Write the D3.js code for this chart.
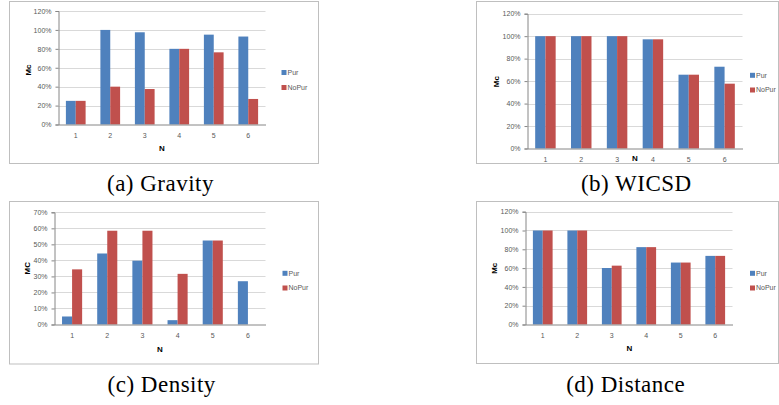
<!DOCTYPE html>
<html>
<head>
<meta charset="utf-8">
<script src="https://cdn.jsdelivr.net/npm/d3@7"></script>
<style>
  html, body { margin: 0; padding: 0; background: #fff; }
  svg { display: block; }
  #captions text { font-family: "Liberation Serif", "Times New Roman", Times, serif !important; font-size: 23px; }
</style>
</head>
<body>
<svg id="chart" width="779" height="405">
  <g id="captions">
    <text x="160.5" y="191" text-anchor="middle">(a) Gravity</text>
    <text x="636.3" y="191" text-anchor="middle">(b) WICSD</text>
    <text x="161.7" y="392.3" text-anchor="middle">(c) Density</text>
    <text x="625.7" y="392.3" text-anchor="middle">(d) Distance</text>
  </g>
</svg>
<script>
// ---------- data ----------
const categories = ["1", "2", "3", "4", "5", "6"];
const seriesNames = ["Pur", "NoPur"];
const seriesColors = ["#4F81BD", "#C0504D"];

const gravityPur   = [0.25, 1.00, 0.975, 0.80, 0.95, 0.93];
const gravityNoPur = [0.25, 0.40, 0.375, 0.80, 0.763, 0.27];

const wicsdPur     = [1.00, 1.00, 1.00, 0.972, 0.657, 0.728];
const wicsdNoPur   = [1.00, 1.00, 1.00, 0.972, 0.657, 0.577];

const densityPur   = [0.05, 0.443, 0.398, 0.027, 0.524, 0.27];
const densityNoPur = [0.344, 0.585, 0.585, 0.316, 0.524, 0.0];

const distancePur   = [1.00, 1.00, 0.601, 0.823, 0.659, 0.73];
const distanceNoPur = [1.00, 1.00, 0.626, 0.823, 0.659, 0.73];

const ticks120 = [0, 0.2, 0.4, 0.6, 0.8, 1.0, 1.2];
const ticks70  = [0, 0.1, 0.2, 0.3, 0.4, 0.5, 0.6, 0.7];

const captions = ["(a) Gravity", "(b) WICSD", "(c) Density", "(d) Distance"];
const yTitles  = ["Mc", "Mc", "MC", "Mc"];
const xTitle   = "N";

// ---------- layout ----------
const panels = [
  { pur: gravityPur, nopur: gravityNoPur, ticks: ticks120, yTitle: yTitles[0],
    frame: {x: 9.5, y: 1.5, w: 309, h: 162}, plot: {l: 58.5, r: 265.5, t: 11, b: 124.5},
    yt: {x: 27.7, y: 70}, xTickY: 136, nPos: {x: 162, y: 148}, leg: {x: 281.5, y: [72.5, 87.5]} },
  { pur: wicsdPur, nopur: wicsdNoPur, ticks: ticks120, yTitle: yTitles[1],
    frame: {x: 476.5, y: 1.5, w: 302, h: 162}, plot: {l: 527.5, r: 742.5, t: 13.7, b: 148.5},
    yt: {x: 496, y: 81.7}, xTickY: 160, nPos: {x: 635, y: 158.5}, leg: {x: 750, y: [75.3, 90]} },
  { pur: densityPur, nopur: densityNoPur, ticks: ticks70, yTitle: yTitles[2],
    frame: {x: 9.5, y: 201.5, w: 309, h: 162.5}, plot: {l: 54.5, r: 265.5, t: 212.3, b: 324.5},
    yt: {x: 26.7, y: 268.3}, xTickY: 335.7, nPos: {x: 160, y: 349.3}, leg: {x: 282.5, y: [273.3, 288]} },
  { pur: distancePur, nopur: distanceNoPur, ticks: ticks120, yTitle: yTitles[3],
    frame: {x: 476.5, y: 201.5, w: 302, h: 162}, plot: {l: 525.5, r: 732.5, t: 211.7, b: 324.5},
    yt: {x: 494, y: 268.3}, xTickY: 335.7, nPos: {x: 629.3, y: 348.3}, leg: {x: 750, y: [273.3, 288]} }
];

const svg = d3.select("#chart");
const sans = "'Liberation Sans', Arial, sans-serif";
const pct = d3.format(".0%");

panels.forEach(p => {
  const g = svg.insert("g", "#captions");

  g.append("rect")
    .attr("x", p.frame.x).attr("y", p.frame.y)
    .attr("width", p.frame.w).attr("height", p.frame.h)
    .attr("fill", "#fff").attr("stroke", "#bfbfbf").attr("stroke-width", 1);

  const yMax = p.ticks[p.ticks.length - 1];
  const y = d3.scaleLinear().domain([0, yMax]).range([p.plot.b, p.plot.t]);
  const x = d3.scaleBand().domain(categories).range([p.plot.l, p.plot.r])
    .paddingInner(1.5 / 3.5).paddingOuter(0.75 / 3.5);
  const xs = d3.scaleBand().domain(seriesNames).range([0, x.bandwidth()]);

  g.append("g").selectAll("line").data(p.ticks.filter(t => t > 0)).join("line")
    .attr("x1", p.plot.l).attr("x2", p.plot.r)
    .attr("y1", d => Math.round(y(d)) + 0.5).attr("y2", d => Math.round(y(d)) + 0.5)
    .attr("stroke", "#d9d9d9").attr("stroke-width", 1);

  const yAxis = d3.axisLeft(y).tickValues(p.ticks).tickFormat(pct).tickSize(3).tickPadding(4);
  const ya = g.append("g").attr("transform", `translate(${p.plot.l},0)`).call(yAxis);
  ya.select(".domain").attr("stroke", "#868686");
  ya.selectAll(".tick line").attr("stroke", "#868686");
  ya.selectAll(".tick text").attr("fill", "#595959").style("font-family", sans).style("font-size", "7px");

  const series = [p.pur, p.nopur];
  series.forEach((vals, si) => {
    g.append("g").selectAll("rect").data(vals).join("rect")
      .attr("x", (d, i) => x(categories[i]) + xs(seriesNames[si]))
      .attr("y", d => y(d))
      .attr("width", xs.bandwidth())
      .attr("height", d => y(0) - y(d))
      .attr("fill", seriesColors[si]);
  });

  const xAxis = d3.axisBottom(x).tickSize(0).tickPadding(0);
  const xa = g.append("g").attr("transform", `translate(0,${p.plot.b})`).call(xAxis);
  xa.select(".domain").attr("stroke", "#868686");
  xa.selectAll(".tick text")
    .attr("y", p.xTickY - p.plot.b).attr("dy", "0.35em")
    .attr("fill", "#595959").style("font-family", sans).style("font-size", "7px");

  g.append("text")
    .attr("transform", `translate(${p.yt.x},${p.yt.y}) rotate(-90)`)
    .attr("text-anchor", "middle").attr("dy", "0.35em")
    .style("font-family", sans).style("font-size", "8px").style("font-weight", "bold")
    .attr("fill", "#000").text(p.yTitle);
  g.append("text")
    .attr("x", p.nPos.x).attr("y", p.nPos.y)
    .attr("text-anchor", "middle").attr("dy", "0.35em")
    .style("font-family", sans).style("font-size", "8px").style("font-weight", "bold")
    .attr("fill", "#000").text(xTitle);

  seriesNames.forEach((name, si) => {
    g.append("rect")
      .attr("x", p.leg.x).attr("y", p.leg.y[si] - 2.5)
      .attr("width", 5).attr("height", 5).attr("fill", seriesColors[si]);
    g.append("text")
      .attr("x", p.leg.x + 6).attr("y", p.leg.y[si]).attr("dy", "0.35em")
      .attr("fill", "#595959").style("font-family", sans).style("font-size", "7px")
      .text(name);
  });
});

// captions (static elements above, text bound from the captions list)
svg.select("#captions").selectAll("text").data(captions)
  .text(d => d)
  .attr("fill", "#000")
  .style("letter-spacing", "0.5px");
</script>
</body>
</html>
